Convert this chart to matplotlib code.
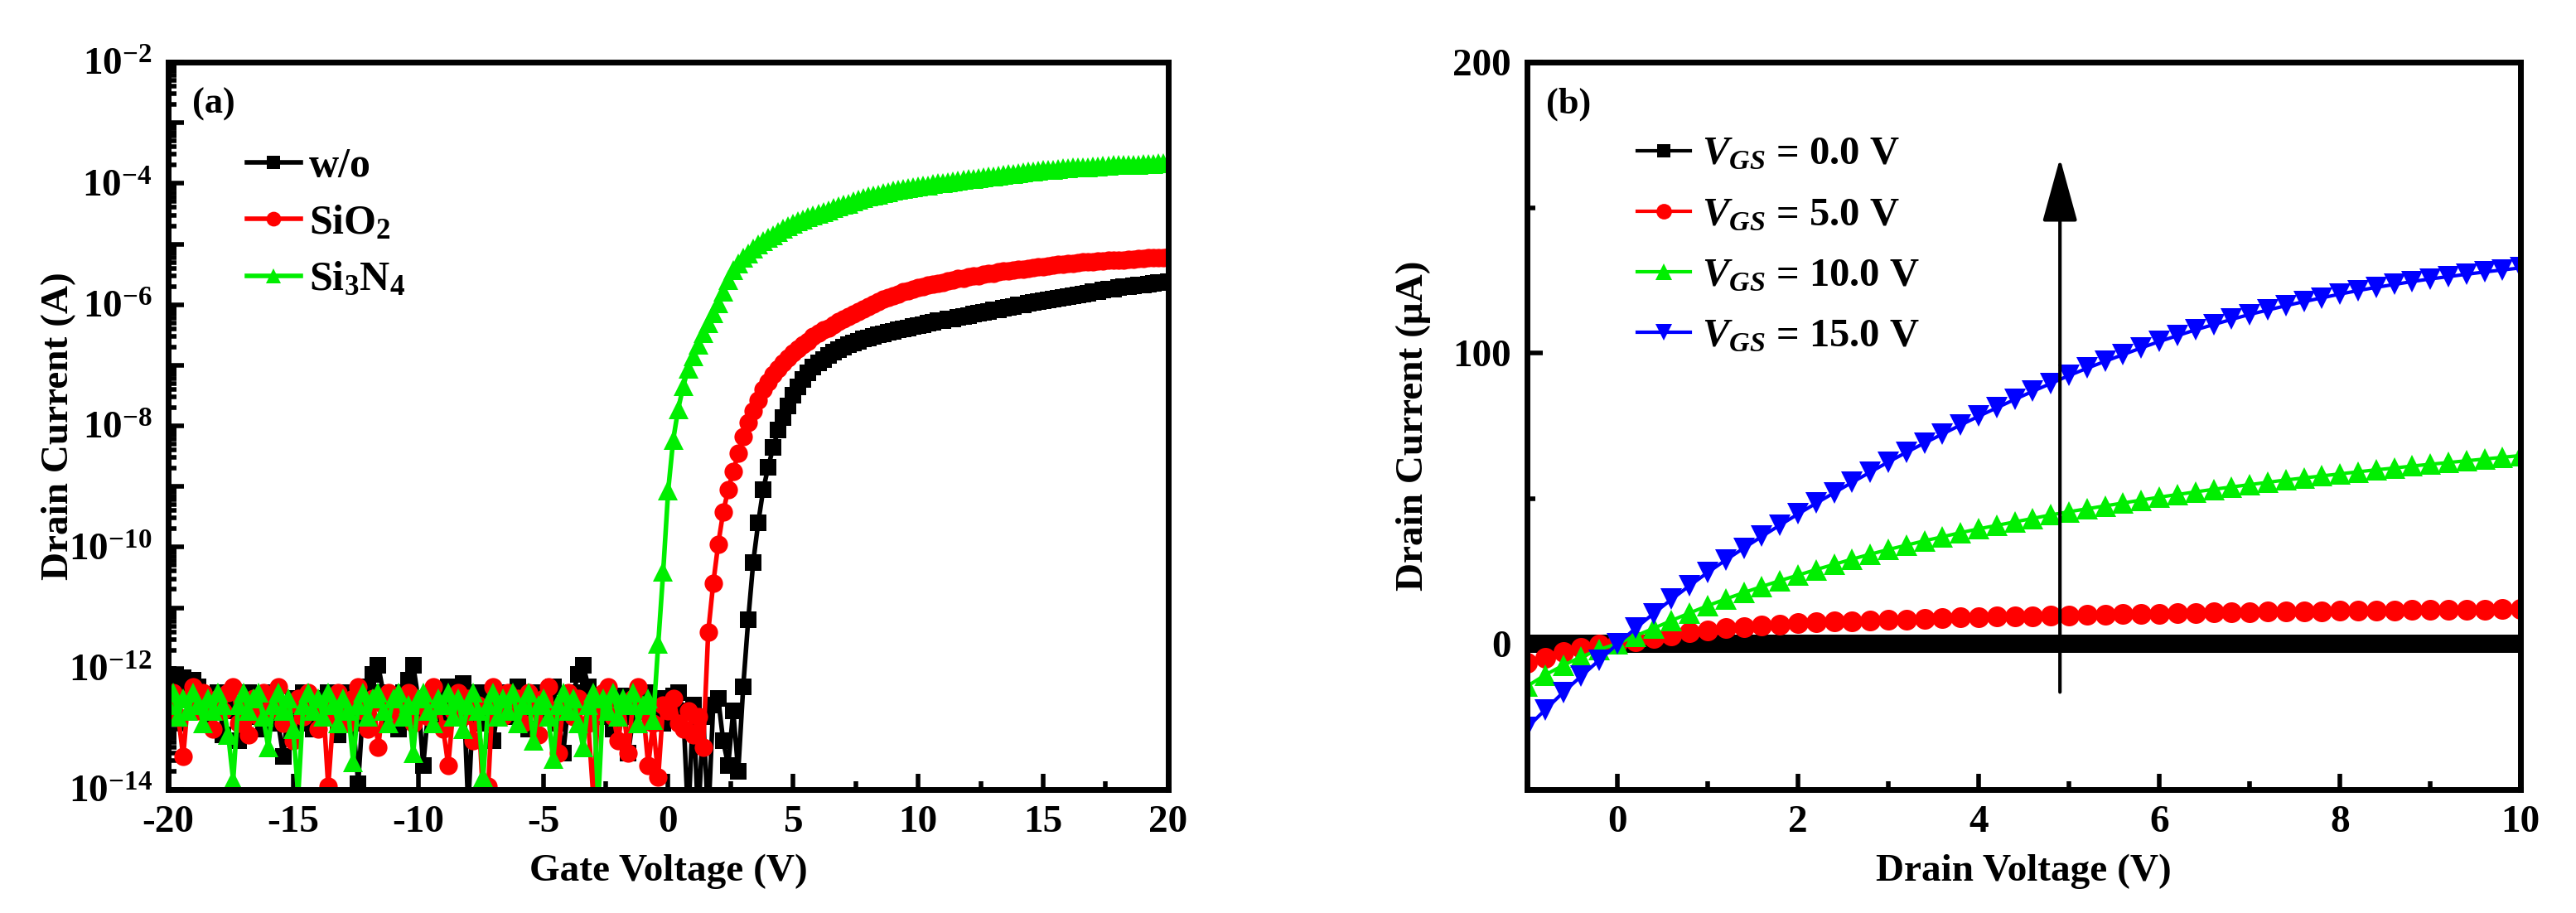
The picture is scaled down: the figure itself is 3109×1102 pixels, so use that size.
import numpy as np
import matplotlib
matplotlib.use('Agg')
import matplotlib.pyplot as plt
from matplotlib.ticker import FixedLocator, MultipleLocator, FuncFormatter

plt.rcParams['font.family'] = 'Liberation Serif'
plt.rcParams['font.weight'] = 'bold'
plt.rcParams['mathtext.fontset'] = 'custom'
plt.rcParams['mathtext.rm'] = 'Liberation Serif:bold'
plt.rcParams['mathtext.it'] = 'Liberation Serif:italic:bold'
plt.rcParams['mathtext.bf'] = 'Liberation Serif:bold'
plt.rcParams['axes.unicode_minus'] = False

# ---------------- (a) transfer curves, log10(Id) vs Vg ----------------
vg_start, vg_step = -20.0, 0.2

# w/o : off state (Vg -20 .. 2.8) and on state (Vg 3.0 .. 20)
log_wo_off = [-12.1, -12.15, -12.2, -12.15, -12.25, -12.2, -12.3, -12.5, -12.9, -12.6,
              -12.4, -13.1, -12.5, -12.7, -13.2, -12.6, -12.4, -12.8, -12.5, -13.0,
              -12.6, -12.4, -12.9, -13.45, -12.7, -12.5, -12.9, -12.4, -12.6, -13.0,
              -12.5, -12.8, -12.4, -12.7, -13.1, -12.6, -12.4, -12.9, -13.9, -12.6,
              -12.3, -12.1, -11.95, -12.4, -12.8, -12.5, -13.0, -12.4, -12.2, -11.95,
              -12.5, -13.6, -12.7, -12.4, -12.9, -12.5, -12.3, -12.8, -12.4, -12.25,
              -14.3, -12.6, -12.4, -12.9, -12.5, -13.2, -12.6, -12.4, -12.8, -12.5,
              -12.3, -12.7, -13.0, -12.5, -12.4, -12.8, -12.6, -12.3, -12.9, -13.4,
              -12.6, -12.4, -12.1, -11.95, -12.3, -12.7, -12.5, -12.8, -12.4, -13.0,
              -12.6, -12.45, -13.4, -12.8, -12.5, -12.6, -12.4, -12.7, -12.5, -12.9,
              -12.6, -12.45, -12.4, -12.7, -14.5, -12.6, -14.5, -12.8, -14.5, -12.6,
              -12.5, -13.2, -13.6, -12.7, -13.7]
log_wo_on = [-12.3, -11.2, -10.25, -9.6, -9.05, -8.68, -8.35, -8.07, -7.86, -7.67,
             -7.5, -7.36, -7.24, -7.12, -7.03, -6.96, -6.9, -6.84, -6.79, -6.74,
             -6.7, -6.66, -6.63, -6.6, -6.57, -6.55, -6.52, -6.5, -6.48, -6.46,
             -6.44, -6.42, -6.4, -6.38, -6.36, -6.35, -6.33, -6.31, -6.29, -6.27,
             -6.26, -6.24, -6.23, -6.21, -6.19, -6.18, -6.16, -6.14, -6.13, -6.11,
             -6.09, -6.08, -6.06, -6.04, -6.03, -6.01, -6.0, -5.98, -5.96, -5.95,
             -5.93, -5.92, -5.91, -5.89, -5.88, -5.87, -5.85, -5.84, -5.82, -5.81,
             -5.79, -5.78, -5.76, -5.75, -5.74, -5.72, -5.71, -5.7, -5.69, -5.68,
             -5.67, -5.66, -5.65, -5.64, -5.63, -5.62]

# SiO2 : off state (Vg -20 .. 1.4) and on state (Vg 1.6 .. 20)
log_sio2_off = [-12.6, -12.4, -12.8, -13.45, -12.5, -12.3, -12.7, -12.4, -12.6, -13.0,
                -12.5, -12.7, -12.4, -12.3, -12.9, -12.6, -13.1, -12.5, -12.8, -12.4,
                -12.7, -12.5, -12.3, -12.9, -12.6, -13.2, -12.5, -12.8, -12.4, -12.7,
                -13.0, -12.6, -13.95, -12.8, -12.4, -12.6, -12.9, -12.5, -12.3, -12.7,
                -13.0, -12.5, -13.3, -12.6, -12.4, -12.8, -12.5, -12.7, -12.4, -12.9,
                -12.6, -12.5, -12.8, -12.3, -12.6, -13.0, -13.6, -12.7, -12.4, -12.8,
                -12.5, -13.2, -12.6, -14.2, -13.95, -12.3, -12.6, -12.8, -12.4, -12.7,
                -12.5, -12.9, -12.4, -12.6, -13.1, -12.5, -12.3, -12.7, -13.4, -12.6,
                -12.4, -12.8, -12.5, -12.6, -12.9, -14.1, -12.7, -12.4, -12.3, -12.8,
                -13.2, -12.6, -13.4, -12.5, -12.3, -12.7, -13.6, -12.9, -13.8, -12.6,
                -12.7, -12.5, -12.9, -13.0, -12.7, -13.1, -12.8, -13.3]
log_sio2_on = [-11.4, -10.6, -9.95, -9.42, -9.05, -8.75, -8.45, -8.18, -7.95, -7.76,
               -7.58, -7.4, -7.27, -7.15, -7.05, -6.96, -6.88, -6.8, -6.73, -6.66,
               -6.6, -6.52, -6.47, -6.42, -6.38, -6.33, -6.28, -6.23, -6.19, -6.15,
               -6.11, -6.07, -6.03, -5.99, -5.95, -5.91, -5.88, -5.85, -5.82, -5.79,
               -5.77, -5.74, -5.72, -5.7, -5.68, -5.66, -5.65, -5.63, -5.61, -5.59,
               -5.57, -5.56, -5.54, -5.53, -5.52, -5.5, -5.49, -5.48, -5.46, -5.45,
               -5.44, -5.43, -5.42, -5.41, -5.4, -5.39, -5.38, -5.37, -5.36, -5.35,
               -5.34, -5.33, -5.32, -5.32, -5.31, -5.3, -5.3, -5.29, -5.28, -5.28,
               -5.27, -5.27, -5.26, -5.26, -5.25, -5.25, -5.24, -5.24, -5.23, -5.23,
               -5.22, -5.22, -5.21]

# Si3N4 : off state (Vg -20 .. -0.6) and on state (Vg -0.4 .. 20)
log_si3n4_off = [-12.6, -12.4, -12.8, -12.5, -12.7, -12.4, -12.6, -12.9, -12.5, -12.7,
                 -12.4, -12.6, -13.1, -13.85, -12.6, -12.4, -12.7, -12.5, -12.4, -12.8,
                 -13.3, -12.6, -12.4, -12.7, -12.5, -13.0, -14.1, -12.6, -12.4, -12.7,
                 -12.5, -12.8, -12.4, -12.6, -12.9, -12.5, -12.7, -13.55, -12.6, -12.4,
                 -12.8, -12.5, -12.4, -12.7, -12.9, -12.5, -12.4, -12.8, -12.6, -13.4,
                 -12.5, -12.4, -12.7, -12.9, -12.5, -12.6, -12.4, -12.8, -12.5, -13.0,
                 -12.6, -12.4, -12.7, -13.8, -12.6, -12.4, -12.8, -12.5, -12.7, -12.4,
                 -12.9, -12.6, -12.4, -13.2, -12.6, -12.5, -12.8, -13.5, -12.6, -12.4,
                 -12.7, -12.5, -12.9, -13.3, -12.6, -12.4, -14.2, -12.5, -12.7, -12.4,
                 -12.8, -12.5, -12.6, -12.4, -12.9, -12.6, -12.5, -12.85]
log_si3n4_on = [-11.6, -10.4, -9.06, -8.23, -7.72, -7.35, -7.05, -6.85, -6.66, -6.47,
                -6.3, -6.14, -5.98, -5.78, -5.6, -5.43, -5.32, -5.23, -5.15, -5.07,
                -5.0, -4.95, -4.9, -4.85, -4.8, -4.75, -4.71, -4.67, -4.63, -4.59,
                -4.56, -4.53, -4.5, -4.47, -4.44, -4.41, -4.38, -4.35, -4.33, -4.3,
                -4.27, -4.24, -4.22, -4.2, -4.18, -4.16, -4.14, -4.12, -4.11, -4.09,
                -4.08, -4.06, -4.05, -4.04, -4.03, -4.01, -4.0, -3.99, -3.98, -3.97,
                -3.96, -3.94, -3.93, -3.92, -3.91, -3.9, -3.89, -3.88, -3.87, -3.86,
                -3.85, -3.84, -3.83, -3.82, -3.81, -3.8, -3.79, -3.78, -3.77, -3.77,
                -3.76, -3.75, -3.75, -3.74, -3.74, -3.73, -3.73, -3.72, -3.72, -3.71,
                -3.71, -3.7, -3.7, -3.7, -3.69, -3.69, -3.69, -3.68, -3.68, -3.68,
                -3.67, -3.67, -3.67]

# ---------------- (b) output curves, Id (uA) vs Vd ----------------
vd_start, vd_step = -1.0, 0.2
id_vgs0 = [0.0] * 56
id_vgs5 = [-6.5, -4.6, -2.8, -1.3, -0.3, 0.3, 1.0, 2.0, 3.0, 4.0,
           4.8, 5.4, 5.9, 6.4, 6.8, 7.1, 7.4, 7.7, 7.9, 8.1,
           8.3, 8.5, 8.7, 8.9, 9.1, 9.3, 9.4, 9.5, 9.6, 9.8,
           9.9, 10.0, 10.2, 10.3, 10.4, 10.5, 10.6, 10.7, 10.8, 10.9,
           11.0, 11.1, 11.2, 11.2, 11.3, 11.4, 11.5, 11.5, 11.6, 11.7,
           11.7, 11.8, 11.9, 11.9, 12.0, 12.0]
id_vgs10 = [-14.5, -10.6, -7.3, -4.4, -1.9, 0.2, 2.8, 5.4, 8.1, 10.7,
            13.2, 15.5, 17.7, 19.8, 21.8, 23.7, 25.6, 27.4, 29.2, 30.9,
            32.5, 34.0, 35.5, 36.9, 38.3, 39.6, 40.8, 42.0, 43.2, 44.4,
            45.5, 46.5, 47.5, 48.5, 49.5, 50.5, 51.4, 52.3, 53.2, 54.0,
            54.8, 55.6, 56.4, 57.1, 57.8, 58.5, 59.2, 59.9, 60.5, 61.2,
            61.8, 62.4, 63.0, 63.6, 64.2, 64.8]
id_vgs15 = [-28.7, -22.6, -16.6, -11.0, -5.5, 0.0, 5.4, 10.5, 15.4, 20.1,
            24.6, 28.9, 33.0, 37.0, 40.9, 44.7, 48.4, 52.0, 55.6, 59.1,
            62.6, 65.9, 69.1, 72.2, 75.3, 78.3, 81.2, 84.1, 86.9, 89.6,
            92.3, 94.8, 97.2, 99.5, 101.8, 104.0, 106.0, 108.0, 109.8, 111.6,
            113.3, 114.8, 116.3, 117.7, 119.0, 120.3, 121.5, 122.6, 123.6, 124.6,
            125.5, 126.3, 127.1, 127.9, 128.6, 129.3]
vgs_labels = ['0.0', '5.0', '10.0', '15.0']

# ---------------- figure ----------------
fig = plt.figure(figsize=(15.545, 5.51), dpi=200)
ax1 = fig.add_axes([0.0653, 0.1352, 0.3882, 0.7967])
ax2 = fig.add_axes([0.5928, 0.1352, 0.3857, 0.7967])

tfs = 17
for ax in (ax1, ax2):
    for s in ax.spines.values():
        s.set_linewidth(2.5)
    ax.tick_params(which='both', direction='in', top=False, right=False, width=2, labelsize=tfs)
    ax.tick_params(which='major', length=7, pad=7)
    ax.tick_params(which='minor', length=3.5)

# panel (a)
curves_a = [('w/o', log_wo_off + log_wo_on, 'black', 's', 7),
            ('SiO$_2$', log_sio2_off + log_sio2_on, 'red', 'o', 8),
            ('Si$_3$N$_4$', log_si3n4_off + log_si3n4_on, '#00ee00', '^', 8.5)]
for name, logs, col, mk, ms in curves_a:
    vg = vg_start + vg_step * np.arange(len(logs))
    ax1.plot(vg, 10.0 ** np.array(logs), color=col, marker=mk, ms=ms, mew=0, lw=2, label=name)

ax1.set_yscale('log')
ax1.set_xlim(-20, 20)
ax1.set_ylim(1e-14, 1e-2)
ax1.xaxis.set_major_locator(MultipleLocator(5))
ax1.xaxis.set_minor_locator(MultipleLocator(2.5))
ax1.yaxis.set_major_locator(FixedLocator([10.0 ** k for k in range(-14, -1)]))
ax1.yaxis.set_major_formatter(FuncFormatter(
    lambda v, p: '$10^{%d}$' % round(np.log10(v)) if round(np.log10(v)) % 2 == 0 else ''))
ax1.yaxis.set_minor_locator(FixedLocator([m * 10.0 ** k for k in range(-14, -2) for m in range(2, 10)]))
ax1.set_xlabel('Gate Voltage (V)', fontsize=tfs, fontweight='bold')
ax1.set_ylabel('Drain Current (A)', fontsize=tfs, fontweight='bold')
ax1.xaxis.set_label_coords(0.5, -0.088)
ax1.yaxis.set_label_coords(-0.092, 0.5)
ax1.text(0.024, 0.965, '(a)', transform=ax1.transAxes, fontsize=16, fontweight='bold', va='top')
ax1.legend(loc='upper left', bbox_to_anchor=(0.062, 0.905), frameon=False, fontsize=18,
           handlelength=1.3, handletextpad=0.2, labelspacing=0.45, borderaxespad=0, numpoints=1,
           markerscale=0.8)

# panel (b)
curves_b = [(id_vgs0, 'black', 's', 8), (id_vgs5, 'red', 'o', 9),
            (id_vgs10, '#00ee00', '^', 9.5), (id_vgs15, 'blue', 'v', 9.5)]
for (vals, col, mk, ms), lab in zip(curves_b, vgs_labels):
    vd = vd_start + vd_step * np.arange(len(vals))
    ax2.plot(vd, vals, color=col, marker=mk, ms=ms, mew=0, lw=1.5,
             label='$V_{GS}$ = %s V' % lab)

ax2.set_xlim(-1, 10)
ax2.set_ylim(-50, 200)
ax2.xaxis.set_major_locator(MultipleLocator(2))
ax2.xaxis.set_minor_locator(MultipleLocator(1))
ax2.yaxis.set_major_locator(MultipleLocator(100))
ax2.yaxis.set_minor_locator(MultipleLocator(50))
ax2.set_xlabel('Drain Voltage (V)', fontsize=tfs, fontweight='bold')
ax2.set_ylabel('Drain Current (\u03bcA)', fontsize=tfs, fontweight='bold')
ax2.xaxis.set_label_coords(0.5, -0.088)
ax2.yaxis.set_label_coords(-0.097, 0.5)
ax2.text(0.019, 0.965, '(b)', transform=ax2.transAxes, fontsize=16, fontweight='bold', va='top')
ax2.legend(loc='upper left', bbox_to_anchor=(0.095, 0.92), frameon=False, fontsize=17.5,
           handlelength=1.3, handletextpad=0.3, labelspacing=0.6, borderaxespad=0, numpoints=1,
           markerscale=0.75)
ax2.annotate('', xy=(4.9, 167), xytext=(4.9, -16.5),
             arrowprops=dict(arrowstyle='-|>,head_length=1.2,head_width=0.33', mutation_scale=20,
                             lw=1.5, color='black', shrinkA=0, shrinkB=0))

fig.savefig('out.png', dpi=200)
